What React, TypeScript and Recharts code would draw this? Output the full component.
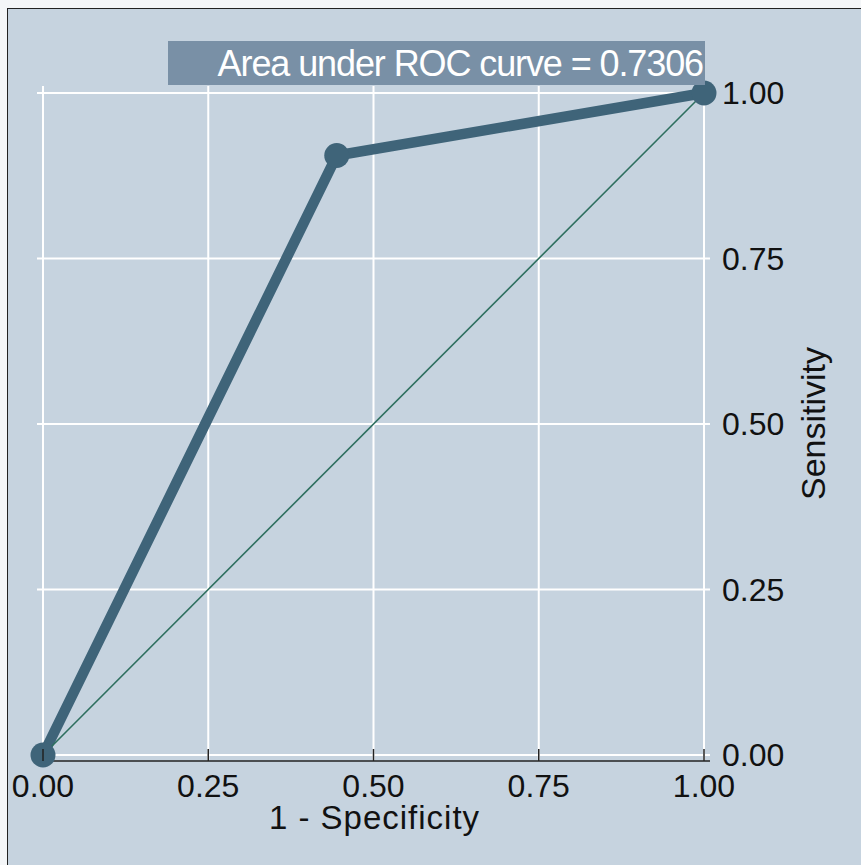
import React from "react";
import {
  ComposedChart,
  Line,
  XAxis,
  YAxis,
  CartesianGrid,
  Label,
} from "recharts";

// ROC operating points (1 - specificity, sensitivity)
const falsePositiveRate = [0, 0.4444, 1];
const sensitivity = [0, 0.9056, 1];
// Chance (45-degree) reference line
const chanceLine = [0, 1];
const tickValues = [0, 0.25, 0.5, 0.75, 1];
const tickLabels = ["0.00", "0.25", "0.50", "0.75", "1.00"];
const aucText = "Area under ROC curve = 0.7306";

const rocData = falsePositiveRate.map((x, i) => ({ x, y: sensitivity[i] }));
const chanceData = chanceLine.map((v) => ({ x: v, ref: v }));

const FONT = "'Liberation Sans', Arial, Helvetica, sans-serif";
const INK = "#111";
const BG = "#c6d3df";
const ROC_COLOR = "#3f6479";
const REF_COLOR = "#2e6f5f";

const labelFor = (v: number) => tickLabels[tickValues.indexOf(v)] ?? v.toFixed(2);

const XTick = (props: any) => {
  const { x, y, payload } = props;
  return (
    <g>
      <line x1={x} x2={x} y1={y - 12} y2={y} stroke="#222" strokeWidth={1.5} />
      <text x={x} y={y + 36} textAnchor="middle" fill={INK} fontSize={32} fontFamily={FONT}>
        {labelFor(payload.value)}
      </text>
    </g>
  );
};

const YTick = (props: any) => {
  const { x, y, payload } = props;
  return (
    <text x={x + 12} y={y + 11} textAnchor="start" fill={INK} fontSize={32} fontFamily={FONT}>
      {labelFor(payload.value)}
    </text>
  );
};

const XTitle = (props: any) => {
  const vb = props.viewBox;
  return (
    <text
      x={vb.x + vb.width / 2 + 1}
      y={vb.y + 68}
      textAnchor="middle"
      fill={INK}
      fontSize={33}
      letterSpacing={1}
      fontFamily={FONT}
    >
      1 - Specificity
    </text>
  );
};

const YTitle = (props: any) => {
  const vb = props.viewBox;
  const cx = vb.x + 115;
  const cy = vb.y + vb.height / 2;
  return (
    <text
      x={cx}
      y={cy}
      transform={`rotate(-90 ${cx} ${cy})`}
      textAnchor="middle"
      fill={INK}
      fontSize={34}
      fontFamily={FONT}
    >
      Sensitivity
    </text>
  );
};

export default function App() {
  return (
    <div
      style={{
        position: "absolute",
        left: 0,
        top: 0,
        width: 861,
        height: 865,
        background: "#f4f6f8",
        overflow: "hidden",
        fontFamily: FONT,
      }}
    >
      <div
        style={{
          position: "absolute",
          left: 7,
          top: 8,
          right: 0,
          bottom: 0,
          background: BG,
          borderLeft: "1.5px solid #222",
          borderTop: "1.5px solid #222",
        }}
      />
      <div style={{ position: "absolute", left: 0, top: 0 }}>
        <ComposedChart
          width={861}
          height={865}
          margin={{ top: 86, left: 37, right: 31, bottom: 14 }}
        >
          <CartesianGrid
            stroke="#ffffff"
            strokeWidth={2}
            horizontalValues={tickValues}
            verticalValues={tickValues}
          />
          <XAxis
            type="number"
            dataKey="x"
            domain={[0, 1]}
            ticks={tickValues}
            padding={{ left: 6, right: 6 }}
            height={90}
            tickSize={0}
            tickMargin={0}
            tickLine={false}
            axisLine={{ stroke: "#222", strokeWidth: 1.5 }}
            tick={<XTick />}
            interval={0}
          >
            <Label content={<XTitle />} />
          </XAxis>
          <YAxis
            type="number"
            orientation="right"
            domain={[0, 1]}
            ticks={tickValues}
            padding={{ top: 7, bottom: 6 }}
            width={120}
            tickSize={0}
            tickMargin={0}
            tickLine={false}
            axisLine={false}
            tick={<YTick />}
            interval={0}
          >
            <Label content={<YTitle />} />
          </YAxis>
          <Line
            data={rocData}
            dataKey="y"
            type="linear"
            stroke={ROC_COLOR}
            strokeWidth={10.5}
            strokeLinejoin="round"
            dot={{ r: 12.5, fill: ROC_COLOR, stroke: "none" }}
            activeDot={false}
            isAnimationActive={false}
          />
          <Line
            data={chanceData}
            dataKey="ref"
            type="linear"
            stroke={REF_COLOR}
            strokeWidth={1.6}
            dot={false}
            activeDot={false}
            isAnimationActive={false}
          />
        </ComposedChart>
      </div>
      <div
        style={{
          position: "absolute",
          left: 168,
          top: 41,
          width: 537,
          height: 44,
          background: "#7990a6",
          color: "#fff",
          fontSize: 36,
          letterSpacing: -1.1,
          lineHeight: "46px",
          textAlign: "right",
          whiteSpace: "nowrap",
          boxSizing: "border-box",
          paddingRight: 2,
        }}
      >
        {aucText}
      </div>
    </div>
  );
}
